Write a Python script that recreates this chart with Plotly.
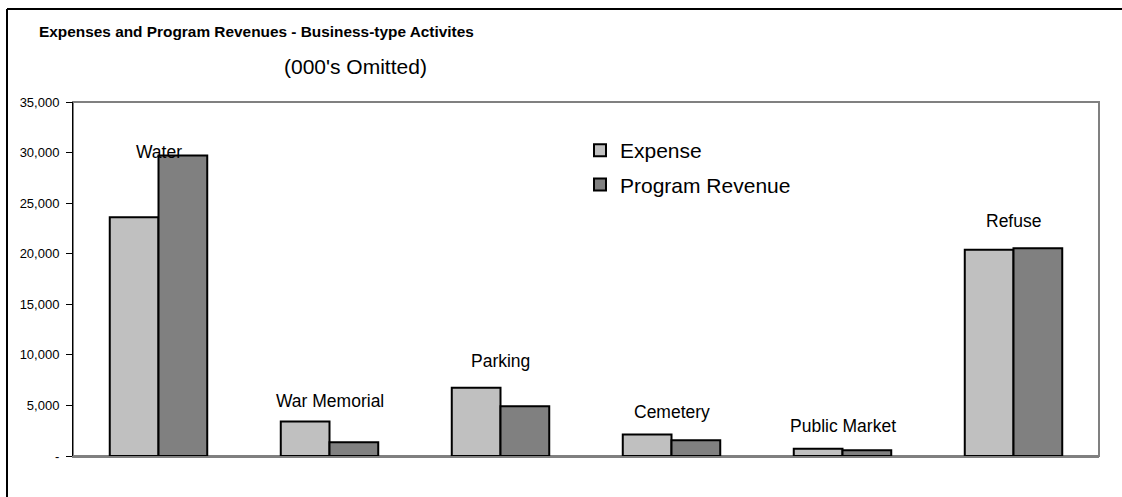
import plotly.graph_objects as go

categories = ["Water", "War Memorial", "Parking", "Cemetery", "Public Market", "Refuse"]
expense = [23600, 3410, 6740, 2120, 710, 20400]
program_revenue = [29700, 1360, 4920, 1560, 570, 20530]
label_y = [30100, 5400, 9370, 4330, 3010, 23200]
tick_vals = [0, 5000, 10000, 15000, 20000, 25000, 30000, 35000]
tick_text = ["-", "5,000", "10,000", "15,000", "20,000", "25,000", "30,000", "35,000"]

W, H = 1122, 497
ML, MR, MT, MB = 73, 23, 102, 41
PW, PH = W - ML - MR, H - MT - MB

def px_x(p):
    return (p - ML) / PW

def px_y(p):
    return (H - MB - p) / PH

font = "Liberation Sans, Arial, sans-serif"

fig = go.Figure()
fig.add_trace(go.Bar(x=categories, y=expense, name="Expense", legendgroup="a",
                     marker=dict(color="#C0C0C0", line=dict(color="black", width=2))))
fig.add_trace(go.Bar(x=categories, y=program_revenue, name="Program Revenue", legendgroup="b",
                     marker=dict(color="#808080", line=dict(color="black", width=2))))

annotations = []
for c, ly in zip(categories, label_y):
    annotations.append(dict(x=c, y=ly, xref="x", yref="y", text=c, showarrow=False,
                            font=dict(family=font, size=17.5, color="black"),
                            xanchor="center", yanchor="middle"))
annotations.append(dict(x=px_x(37), y=px_y(32), xref="paper", yref="paper",
                        text="<b>Expenses and Program Revenues - Business-type Activites</b>",
                        showarrow=False, xanchor="left", yanchor="middle",
                        font=dict(family=font, size=15.4, color="black")))
annotations.append(dict(x=px_x(282), y=px_y(67), xref="paper", yref="paper",
                        text="(000's Omitted)", showarrow=False, xanchor="left", yanchor="middle",
                        font=dict(family=font, size=21, color="black")))

shapes = [
    dict(type="rect", xref="paper", yref="paper", x0=0, x1=1, y0=0, y1=1,
         line=dict(color="#808080", width=2), layer="below"),
    dict(type="line", xref="paper", yref="paper", x0=px_x(7), x1=px_x(1130), y0=px_y(9), y1=px_y(9),
         line=dict(color="black", width=2)),
    dict(type="line", xref="paper", yref="paper", x0=px_x(7), x1=px_x(7), y0=px_y(9), y1=px_y(505),
         line=dict(color="black", width=2)),
]

fig.update_layout(
    width=W, height=H,
    margin=dict(l=ML, r=MR, t=MT, b=MB, autoexpand=False),
    paper_bgcolor="white", plot_bgcolor="white",
    barmode="group", bargap=0.43, bargroupgap=0,
    showlegend=True,
    legend=dict(x=px_x(580), y=px_y(130), xanchor="left", yanchor="top",
                bgcolor="rgba(0,0,0,0)", traceorder="grouped", tracegroupgap=4,
                font=dict(family=font, size=21, color="black"), itemwidth=30),
    annotations=annotations, shapes=shapes,
    xaxis=dict(showticklabels=False, ticks="", showgrid=False, showline=True,
               linecolor="#808080", linewidth=2, zeroline=False),
    yaxis=dict(range=[0, 35000], tickvals=tick_vals, ticktext=tick_text, showgrid=False,
               ticks="outside", ticklen=6, tickcolor="black", tickwidth=1,
               ticklabelstandoff=4,
               showline=True, linecolor="black", linewidth=1, zeroline=False,
               tickfont=dict(family=font, size=13, color="black")),
)

fig.write_html("out.html", config={"displayModeBar": False},
               post_script="document.body.style.margin='0';")
